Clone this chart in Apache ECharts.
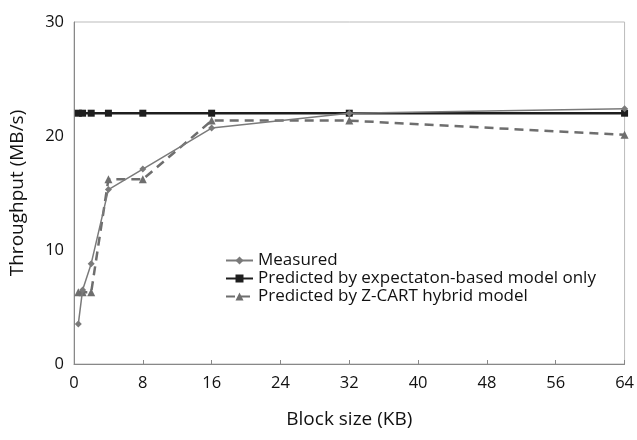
<!DOCTYPE html>
<html><head><meta charset="utf-8">
<script src="https://cdn.jsdelivr.net/npm/echarts@6/dist/echarts.min.js"></script>
<style>html,body{margin:0;padding:0;background:#fff}#c{width:637px;height:440px}</style>
</head><body><div id="c"></div>
<script>
const blockSizes = [0.5, 1, 2, 4, 8, 16, 32, 64];
const measured = [3.5, 6.5, 8.8, 15.3, 17.1, 20.7, 22.0, 22.4];
const expectation = [22, 22, 22, 22, 22, 22, 22, 22];
const zcart = [6.3, 6.3, 6.3, 16.2, 16.2, 21.35, 21.35, 20.1];
const xTicks = [0, 8, 16, 24, 32, 40, 48, 56, 64];
const yTicks = [0, 10, 20, 30];
const names = ['Measured', 'Predicted by expectaton-based model only', 'Predicted by Z-CART hybrid model'];

const pair = (ys) => blockSizes.map((x, i) => [x, ys[i]]);
const font = "'Open Sans', 'Liberation Sans', sans-serif";
const chart = echarts.init(document.getElementById('c'));
chart.setOption({
  animation: false,
  grid: { left: 74, right: 12, top: 22, bottom: 76, show: true, borderColor: '#bbb', borderWidth: 1 },
  legend: {
    orient: 'vertical', left: 225, top: 252, itemGap: 1, itemWidth: 27, itemHeight: 10, padding: 0,
    textStyle: { fontFamily: font, fontSize: 17, color: '#111' },
    data: names
  },
  xAxis: {
    type: 'value', min: 0, max: 64, interval: 8,
    name: 'Block size (KB)', nameLocation: 'middle', nameGap: 46,
    nameTextStyle: { fontFamily: font, fontSize: 19, color: '#111' },
    axisLine: { lineStyle: { color: '#888', width: 1 } },
    axisTick: { show: true, inside: true, length: 4, lineStyle: { color: '#888' } },
    axisLabel: { fontFamily: font, fontSize: 16.5, color: '#111', margin: 11,
      formatter: v => xTicks.includes(v) ? String(v) : '' },
    splitLine: { show: false }
  },
  yAxis: {
    type: 'value', min: 0, max: 30, interval: 10,
    name: 'Throughput (MB/s)', nameLocation: 'middle', nameGap: 47,
    nameTextStyle: { fontFamily: font, fontSize: 19, color: '#111' },
    axisLine: { show: true, lineStyle: { color: '#888', width: 1 } },
    axisTick: { show: false },
    axisLabel: { fontFamily: font, fontSize: 16.5, color: '#111', margin: 10,
      formatter: v => yTicks.includes(v) ? String(v) : '' },
    splitLine: { show: false }
  },
  series: [
    { name: names[1], type: 'line', data: pair(expectation), symbol: 'rect', symbolSize: 7,
      itemStyle: { color: '#1e1e1e' }, lineStyle: { color: '#1e1e1e', width: 2.5 }, z: 3 },
    { name: names[2], type: 'line', data: pair(zcart), symbol: 'triangle', symbolSize: 8,
      itemStyle: { color: '#6e6e6e' }, lineStyle: { color: '#6e6e6e', width: 2.5, type: [9, 6] }, z: 2 },
    { name: names[0], type: 'line', data: pair(measured), symbol: 'diamond', symbolSize: 7,
      itemStyle: { color: '#7a7a7a' }, lineStyle: { color: '#7a7a7a', width: 1.5 }, z: 4 }
  ]
});
</script></body></html>
